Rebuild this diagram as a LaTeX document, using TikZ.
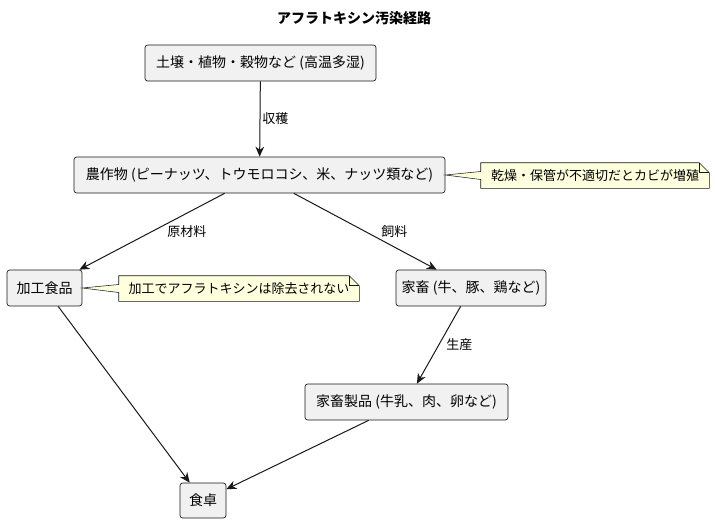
\documentclass[tikz,border=0pt]{standalone}
\usepackage{fontspec}
\setmainfont{Noto Sans CJK JP}
\usetikzlibrary{arrows.meta}
\definecolor{lineC}{HTML}{181818}
\definecolor{boxF}{HTML}{F1F1F1}
\definecolor{noteF}{HTML}{FEFFDD}
\tikzset{
  px/.style={x=0.75pt,y=-0.75pt},
  box/.style={draw=lineC,fill=boxF,line width=0.5pt,rounded corners=2pt,inner sep=0pt,
    font=\fontsize{10.5pt}{12pt}\selectfont,minimum height=27pt},
  notetext/.style={inner sep=0pt,font=\fontsize{9.75pt}{11pt}\selectfont,minimum height=18.75pt},
  noteshape/.style={draw=lineC,fill=noteF,line width=0.4pt,line join=miter},
  elabel/.style={anchor=west,inner sep=0pt,font=\fontsize{9.75pt}{11pt}\selectfont},
  conn/.style={draw=lineC,line width=0.75pt,-{Stealth[length=7.5pt,width=6.5pt,inset=2.4pt]}},
}
\begin{document}
\begin{tikzpicture}[px]
\useasboundingbox (0,0) rectangle (715,522);
\node[font=\bfseries\fontsize{10.5pt}{12pt}\selectfont,inner sep=0pt] (title) at (354,18) {アフラトキシン汚染経路};

\node[box,minimum width=173.25pt] (n1) at (260.5,63) {土壌・植物・穀物など (高温多湿)};
\node[box,minimum width=278.25pt] (n2) at (259.5,175) {農作物 (ピーナッツ、トウモロコシ、米、ナッツ類など)};
\node[box,minimum width=56.25pt] (n3) at (44.5,288) {加工食品};
\node[box,minimum width=112.5pt] (n4) at (471,288) {家畜 (牛、豚、鶏など)};
\node[box,minimum width=152.25pt] (n5) at (406.5,402) {家畜製品 (牛乳、肉、卵など)};
\node[box,minimum width=34.5pt,minimum height=26.25pt] (n6) at (203,500.5) {食卓};

% note 1
\node[notetext,minimum width=171pt] (m1) at (595,175.5) {};
\path[noteshape] (m1.north west) -- ([xshift=-7.5pt]m1.north east) -- ([yshift=-7.5pt]m1.north east)
  -- (m1.south east) -- (m1.south west) -- ([yshift=-3pt]m1.west) -- (n2.east) -- ([yshift=3pt]m1.west) -- cycle;
\draw[lineC,line width=0.4pt] ([xshift=-7.5pt]m1.north east) -- ([xshift=-7.5pt,yshift=-7.5pt]m1.north east) -- ([yshift=-7.5pt]m1.north east);
\node[notetext] (m1t) at (m1.center) {乾燥・保管が不適切だとカビが増殖};

% note 2
\node[notetext,minimum width=180pt] (m2) at (239,288.5) {};
\path[noteshape] (m2.north west) -- ([xshift=-7.5pt]m2.north east) -- ([yshift=-7.5pt]m2.north east)
  -- (m2.south east) -- (m2.south west) -- ([yshift=-3pt]m2.west) -- (n3.east) -- ([yshift=3pt]m2.west) -- cycle;
\draw[lineC,line width=0.4pt] ([xshift=-7.5pt]m2.north east) -- ([xshift=-7.5pt,yshift=-7.5pt]m2.north east) -- ([yshift=-7.5pt]m2.north east);
\node[notetext] (m2t) at (m2.center) {加工でアフラトキシンは除去されない};

% edges
\draw[conn] (n1) -- (n2);
\draw[conn] (n2) -- (n3);
\draw[conn] (n2) -- (n4);
\draw[conn] (n4) -- (n5);
\draw[conn] (n3) -- (n6);
\draw[conn] (n5) -- (n6);

\node[elabel] (l1) at (262,119) {収穫};
\node[elabel] (l2) at (167,232) {原材料};
\node[elabel] (l3) at (381,232) {飼料};
\node[elabel] (l4) at (446,345) {生産};
\end{tikzpicture}
\end{document}
